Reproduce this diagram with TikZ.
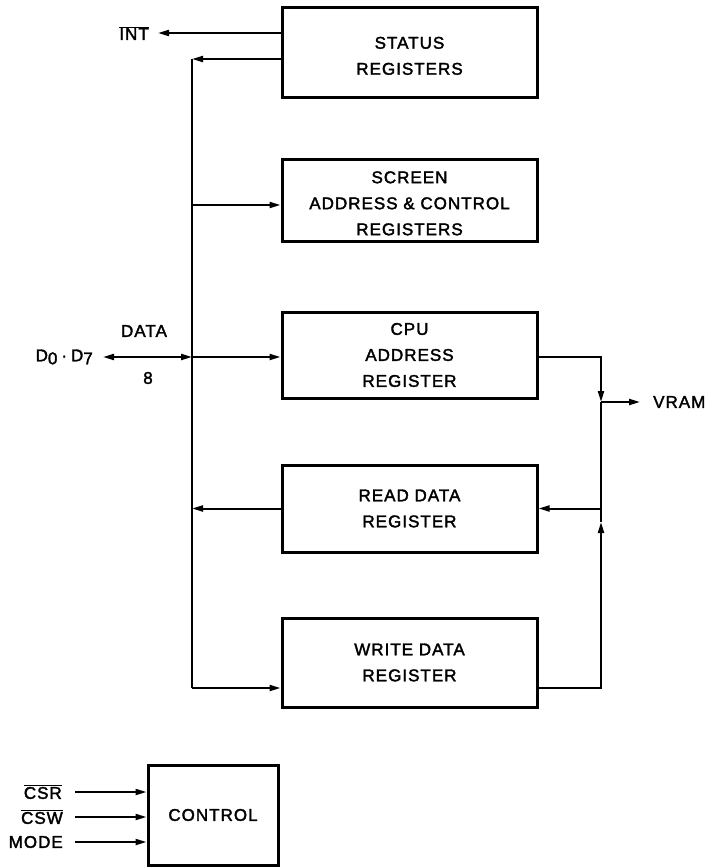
\documentclass[tikz,border=0pt]{standalone}
\usepackage{fontspec}
\setmainfont{Liberation Sans}[LetterSpace=6, FakeBold=2]
\usetikzlibrary{arrows.meta}
\newcommand\lblfont{\fontsize{17}{26}\selectfont}
\newcommand\lowr[1]{\raisebox{-3pt}{#1}}
\newcommand\lowbox[1]{\raisebox{-4pt}[\height][\depth]{#1}}
\begin{document}
\begin{tikzpicture}[x=1pt,y=-1pt,
  box/.style={draw, line width=3pt, minimum width=255pt, align=center, inner sep=0pt, font=\lblfont},
  wire/.style={line width=2pt},
  tip/.tip={Triangle[length=11pt,width=6pt]},
  arr/.style={wire, -tip},
  arrboth/.style={wire, tip-tip},
  lab/.style={inner sep=0pt, font=\lblfont}]
\useasboundingbox (0,0) rectangle (712,867);

% boxes
\node[box, minimum height=89pt] (status) at (409.5,52.5) {\lowbox{\begin{tabular}{@{}c@{}}STATUS\\REGISTERS\end{tabular}}};
\node[box, minimum height=82pt] (screen) at (409.5,200) {\lowbox{\begin{tabular}{@{}c@{}}SCREEN\\ADDRESS \& CONTROL\\REGISTERS\end{tabular}}};
\node[box, minimum height=86pt] (cpu) at (409.5,355) {CPU\\ADDRESS\\REGISTER};
\node[box, minimum height=87pt] (read) at (409.5,508.5) {READ DATA\\REGISTER};
\node[box, minimum height=89pt] (write) at (409.5,662.5) {WRITE DATA\\REGISTER};
\node[box, minimum width=130pt, minimum height=100pt] (control) at (213,815) {CONTROL};

% labels
\node[lab, anchor=east] (int) at (149,33) {$\overline{\mbox{INT}}$};
\node[lab, anchor=east] (d07) at (93,357) {D\lowr{0}\kern4pt·\kern4ptD\lowr{7}};
\node[lab] (data) at (144,331) {DATA};
\node[lab] (eight) at (148,378) {8};
\node[lab, anchor=west] (vram) at (653,402) {VRAM};
\node[lab, anchor=east] (csr) at (62,792) {$\overline{\mbox{CSR}}$};
\node[lab, anchor=east] (csw) at (63,817) {$\overline{\mbox{CSW}}$};
\node[lab, anchor=east] (mode) at (63,842) {MODE};

% coordinates
\coordinate (busT) at (192,59);
\coordinate (busB) at (192,688);
\coordinate (rT) at (601,357);
\coordinate (rJ) at (601,402);
\coordinate (rUp) at (601,522);
\coordinate (rB) at (601,688);
\coordinate (intEnd) at (158,33);
\coordinate (dStart) at (103,357);
\coordinate (vramEnd) at (640,402);

% left bus
\draw[arr] (status.west |- intEnd) -- (intEnd);
\draw[arr] (status.west |- busT) -- (busT);
\draw[wire] (busT) -- (busB);
\draw[arr] (busT |- 0,205) -- (screen.west |- 0,205);
\draw[arrboth] (dStart) -- (busT |- dStart);
\draw[arr] (busT |- dStart) -- (cpu.west |- dStart);
\draw[arr] (read.west) -- (busT |- read.west);
\draw[arr] (busB) -- (write.west |- busB);

% right bus
\draw[arr] (cpu.east |- rT) -- (rT) -- (rJ);
\draw[arr] (rJ) -- (vramEnd);
\draw[arr] (rJ |- read.east) -- (read.east);
\draw[arr] (write.east |- rB) -- (rB) -- (rUp);
\draw[wire] (rUp) -- (rJ);

% control inputs
\draw[arr] (75,792) -- (control.west |- 0,792);
\draw[arr] (75,817) -- (control.west |- 0,817);
\draw[arr] (75,842) -- (control.west |- 0,842);
\end{tikzpicture}
\end{document}
